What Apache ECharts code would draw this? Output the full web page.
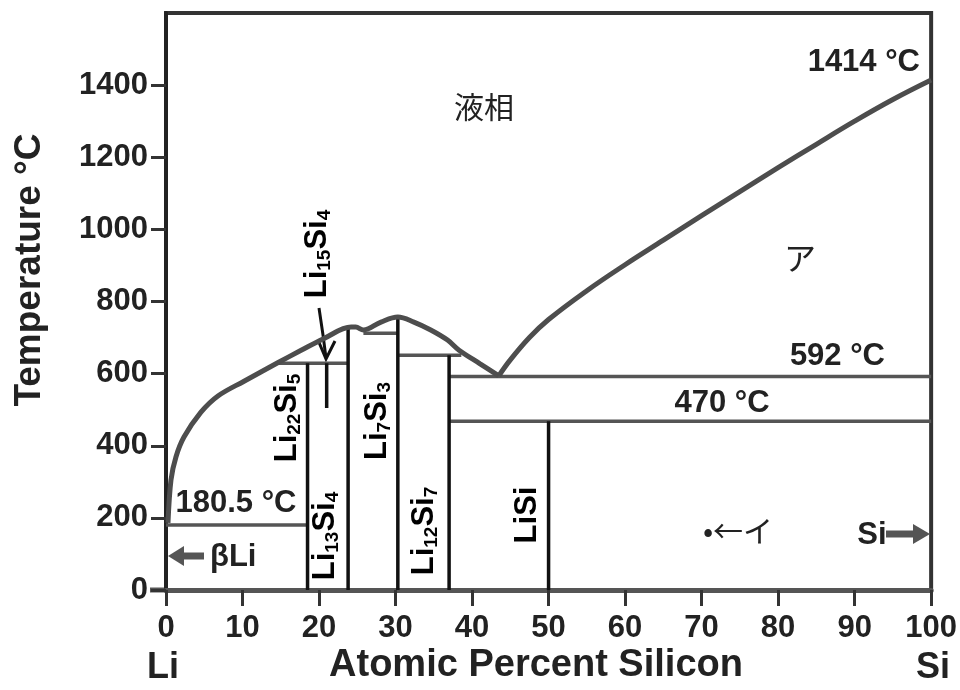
<!DOCTYPE html>
<html>
<head>
<meta charset="utf-8">
<script src="https://cdn.jsdelivr.net/npm/echarts@6/dist/echarts.min.js"></script>
<style>
  html, body { margin: 0; padding: 0; background: #fff; }
  #chart { width: 960px; height: 690px; }
</style>
</head>
<body>
<div id="chart"></div>
<script>
// 液相線（左側：Li 側から共晶点まで）
const liquidusLeft = [[0.26, 186], [0.65, 305], [1.3, 369], [2.35, 424], [4.57, 493], [6.79, 538],
  [10.2, 579], [14.6, 630], [17.6, 664], [20.6, 697], [24.2, 729], [24.8, 729], [25.8, 721],
  [28.1, 743], [30.3, 757], [32.4, 743], [34.6, 721], [36.8, 693], [38.3, 665], [41, 628], [43.5, 594]]
// 液相線（右側：共晶点から Si 融点まで）
const liquidusRight = [[43.5, 594], [45, 638], [47.5, 700], [50, 750], [55, 830], [60, 902], [65, 970],
  [70, 1038], [75, 1105], [80, 1171], [85, 1236], [90, 1300], [95, 1360], [100, 1414]]

// 化合物の縦線
const compoundX = [18.5, 21, 23.8, 30.3, 37, 50]
const compoundBottom = [0, 505, 0, 0, 0, 0]
const compoundTop = [629, 629, 727, 757, 651, 468]

// 水平線（共晶・包晶温度）
const isoT = [180.5, 629, 712, 651, 592, 468]
const isoFrom = [0, 14.6, 25.8, 30.3, 37, 37]
const isoTo = [18.5, 23.8, 30.3, 38.6, 100, 100]

const yTickValues = [0, 200, 400, 600, 800, 1000, 1200, 1400]

const FONT = "'Liberation Sans', Arial, sans-serif"
const CJK = "'Noto Sans CJK JP', sans-serif"
const DARK = '#222'
const GRAY = '#4d4d4d'

const series = []
series.push({ type: 'line', data: liquidusLeft, smooth: 0.35, showSymbol: false,
  lineStyle: { color: GRAY, width: 5 }, z: 5 })
series.push({ type: 'line', data: liquidusRight, smooth: 0.4, showSymbol: false,
  lineStyle: { color: GRAY, width: 5 }, z: 5 })
compoundX.forEach((x, i) => {
  series.push({ type: 'line', data: [[x, compoundBottom[i]], [x, compoundTop[i]]], showSymbol: false,
    lineStyle: { color: '#111', width: 3.5 }, z: 4 })
})
isoT.forEach((t, i) => {
  series.push({ type: 'line', data: [[isoFrom[i], t], [isoTo[i], t]], showSymbol: false,
    lineStyle: { color: '#555', width: 3.5 }, z: 3 })
})

const rich = {
  n: { fontFamily: FONT, fontWeight: 'bold', fontSize: 31, lineHeight: 34, color: DARK },
  s: { fontFamily: FONT, fontWeight: 'bold', fontSize: 19, lineHeight: 8, verticalAlign: 'bottom', color: DARK }
}
function formula(parts) {
  return parts.map((p, i) => (i % 2 === 0 ? '{n|' + p + '}' : '{s|' + p + '}')).join('')
}
function vtext(x, y, parts) {
  return { type: 'text', x: x, y: y, rotation: Math.PI / 2, z: 10,
    style: { text: formula(parts), rich: rich, align: 'center', verticalAlign: 'middle' } }
}
function htext(x, y, text, size, align, family, weight) {
  return { type: 'text', x: x, y: y, z: 10,
    style: { text: text, fontFamily: family || FONT, fontWeight: weight || 'bold', fontSize: size,
      fill: DARK, align: align || 'center', verticalAlign: 'middle' } }
}

const graphic = [
  { type: 'text', x: 30, y: 270, rotation: Math.PI / 2,
    style: { text: 'Temperature °C', fontFamily: FONT, fontWeight: 'bold', fontSize: 37, fill: DARK,
      align: 'center', verticalAlign: 'middle' } },
  htext(536, 666, 'Atomic Percent Silicon', 38),
  htext(163, 668, 'Li', 36),
  htext(933, 668, 'Si', 36),
  htext(484, 107, '液相', 30, 'center', CJK, 'normal'),
  htext(920, 62, '1414 °C', 31, 'right'),
  htext(800, 258, 'ア', 32, 'center', CJK, 'normal'),
  htext(885, 356, '592 °C', 31, 'right'),
  htext(722, 403, '470 °C', 31, 'center'),
  htext(236, 503, '180.5 °C', 31, 'center'),
  htext(210, 557, 'βLi', 31, 'left'),
  htext(738, 531, '•←イ', 30, 'center', CJK, 'normal'),
  htext(872, 535, 'Si', 31, 'center'),
  // 矢印
  { type: 'line', shape: { x1: 181, y1: 556, x2: 204, y2: 556 }, style: { stroke: '#555', lineWidth: 7 } },
  { type: 'polygon', shape: { points: [[168, 556], [184, 546], [184, 566]] }, style: { fill: '#555' } },
  { type: 'line', shape: { x1: 886, y1: 534, x2: 915, y2: 534 }, style: { stroke: '#555', lineWidth: 7 } },
  { type: 'polygon', shape: { points: [[930, 534], [913, 524], [913, 544]] }, style: { fill: '#555' } },
  { type: 'polyline', shape: { points: [[319, 308], [323, 335], [326, 358]] }, style: { stroke: '#111', lineWidth: 3, fill: null } },
  { type: 'polyline', shape: { points: [[318, 340], [326, 359], [335, 341]] }, style: { stroke: '#111', lineWidth: 3, fill: null } },
  // x 軸線の左端のはみ出し
  { type: 'line', shape: { x1: 150, y1: 590, x2: 166, y2: 590 }, style: { stroke: '#555', lineWidth: 5 } },
  vtext(317, 254, ['Li', '15', 'Si', '4']),
  vtext(287, 418, ['Li', '22', 'Si', '5']),
  vtext(325, 536, ['Li', '13', 'Si', '4']),
  vtext(377, 421, ['Li', '7', 'Si', '3']),
  vtext(424, 531, ['Li', '12', 'Si', '7']),
  vtext(527, 515, ['LiSi'])
]

const chart = echarts.init(document.getElementById('chart'), null, { renderer: 'canvas' })
chart.setOption({
  animation: false,
  backgroundColor: '#fff',
  grid: { left: 166, right: 28, top: 13, bottom: 100, show: true, borderColor: '#333', borderWidth: 4 },
  xAxis: {
    type: 'value', min: 0, max: 100, interval: 10,
    axisLine: { show: true, onZero: false, lineStyle: { color: '#555', width: 5 } },
    axisTick: { show: true, length: 16, lineStyle: { color: '#333', width: 3 } },
    axisLabel: { margin: 23, fontFamily: FONT, fontWeight: 'bold', fontSize: 31, color: DARK },
    splitLine: { show: false }
  },
  yAxis: {
    type: 'value', min: 0, max: 1600, interval: 200,
    axisLine: { show: true, lineStyle: { color: DARK, width: 4 } },
    axisTick: { show: true, length: 15, customValues: yTickValues, lineStyle: { color: '#333', width: 3 } },
    axisLabel: { margin: 18, customValues: yTickValues, formatter: v => String(v),
      fontFamily: FONT, fontWeight: 'bold', fontSize: 31, color: DARK },
    splitLine: { show: false }
  },
  series: series,
  graphic: graphic
})
</script>
</body>
</html>
